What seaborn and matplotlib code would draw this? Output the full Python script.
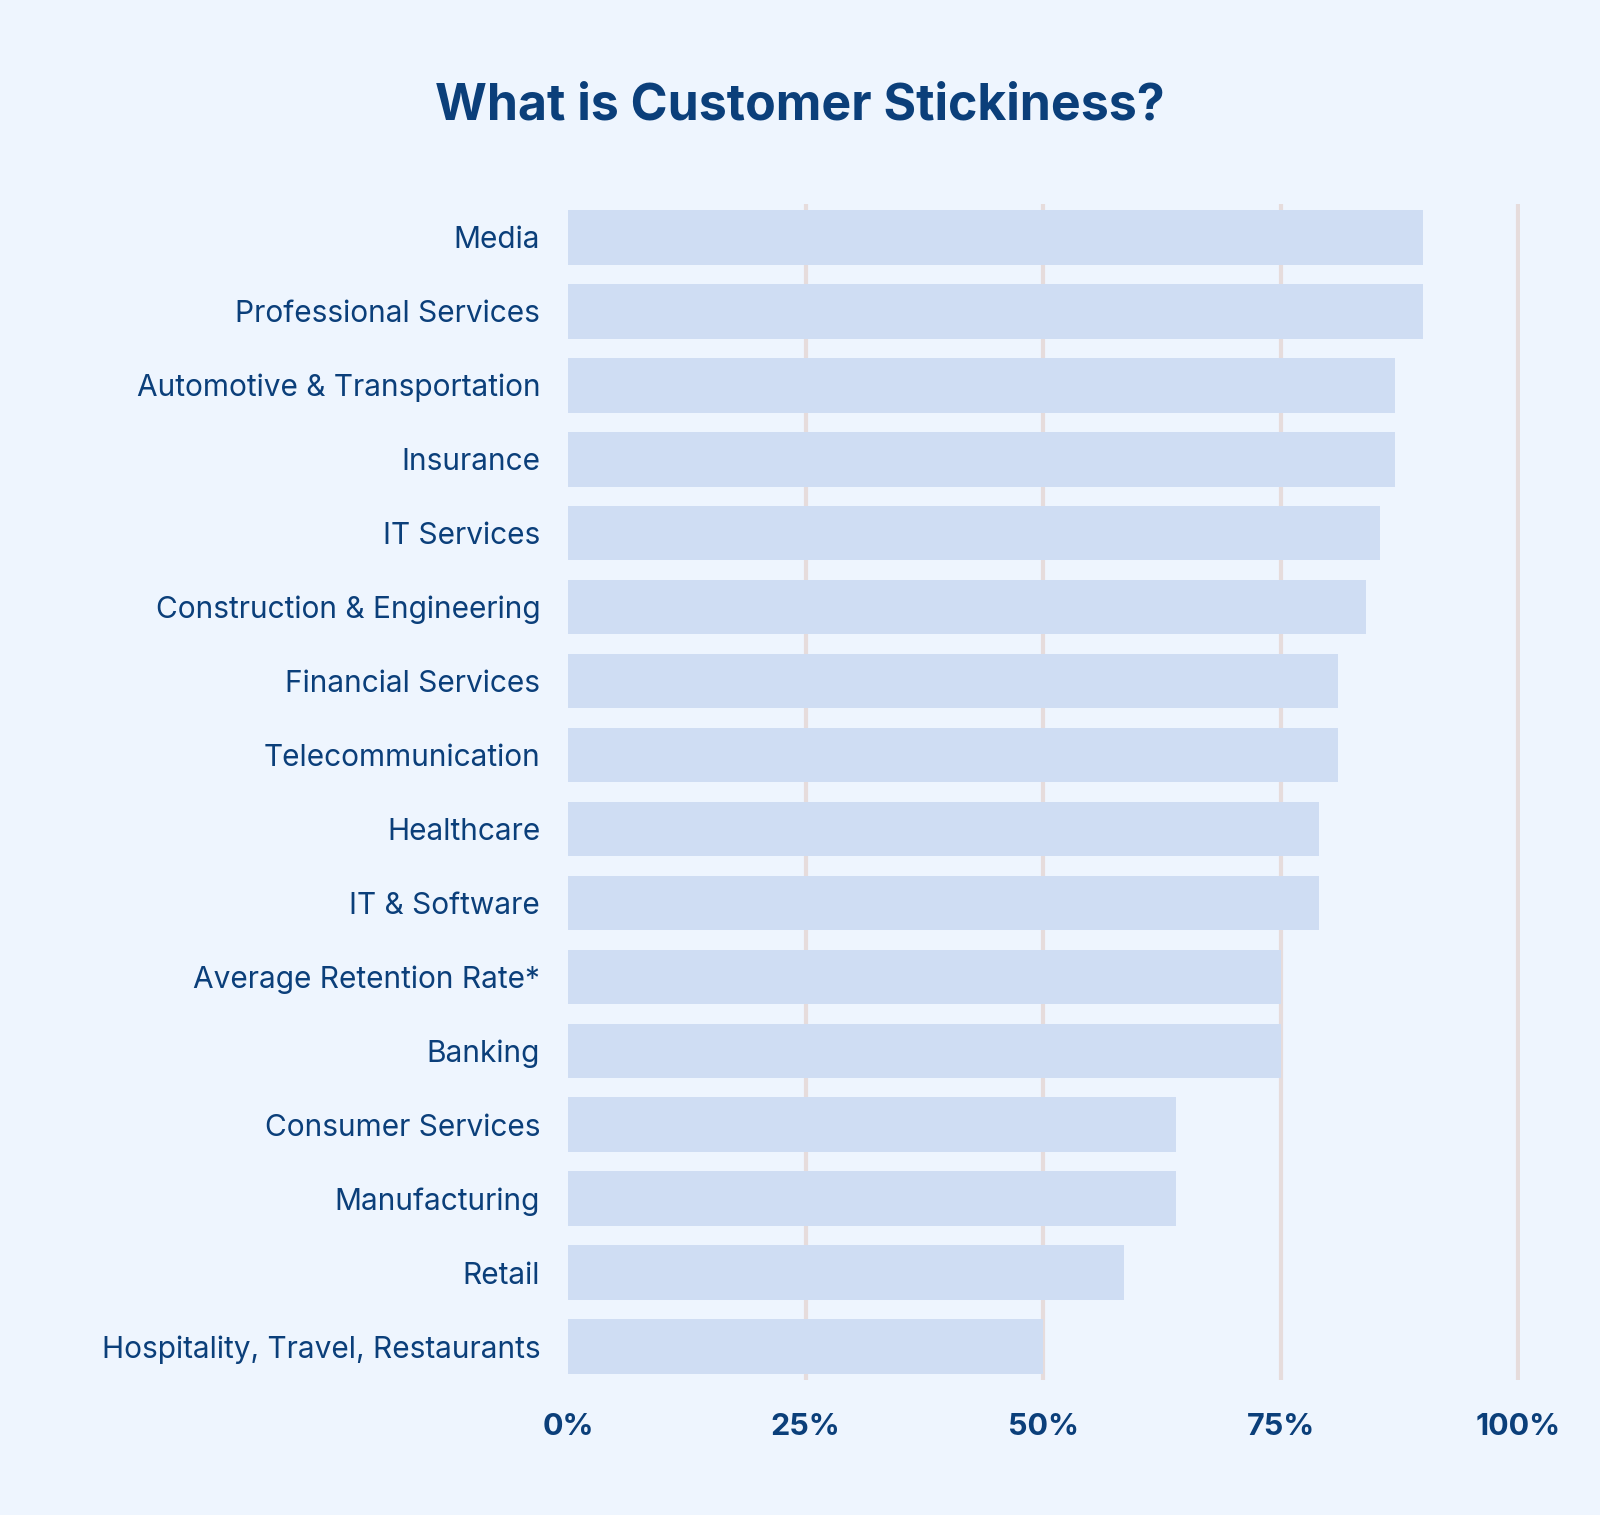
import matplotlib
matplotlib.use("Agg")
import matplotlib.pyplot as plt
import seaborn as sns
import pandas as pd

categories = ["Media", "Professional Services", "Automotive & Transportation", "Insurance",
              "IT Services", "Construction & Engineering", "Financial Services",
              "Telecommunication", "Healthcare", "IT & Software", "Average Retention Rate*",
              "Banking", "Consumer Services", "Manufacturing", "Retail",
              "Hospitality, Travel, Restaurants"]
values = [90, 90, 87, 87, 85.5, 84, 81, 81, 79, 79, 75, 75, 64, 64, 58.5, 50]
tick_values = [0, 25, 50, 75, 100]
tick_labels = ["0%", "25%", "50%", "75%", "100%"]

bg = "#EEF5FE"
txt = "#0B3F7A"
font = "Inter"
df = pd.DataFrame({"industry": categories, "rate": values})

fig = plt.figure(figsize=(16, 15.15), dpi=100, facecolor=bg)
ax = fig.add_axes([568/1600, 1-1380/1515, (1520-568)/1600, (1380-204)/1515])
ax.set_facecolor(bg)
sns.barplot(data=df, x="rate", y="industry", color="#CFDDF3", saturation=1, width=0.74, ax=ax, zorder=2)
ax.set_xlim(0, 100.2)
ax.set_ylim(15.45, -0.45)
for v in tick_values[1:]:
    ax.axvline(v, color="#E6DCDC", lw=3, zorder=1)
ax.set_xticks(tick_values)
ax.set_xticklabels(tick_labels, fontsize=22, fontweight="bold", color=txt, family=font)
for lab in ax.get_yticklabels():
    lab.set_fontsize(21.5); lab.set_color(txt); lab.set_family(font)
ax.tick_params(length=0, axis="y", pad=20)
ax.tick_params(length=0, axis="x", pad=24)
ax.set_xlabel(""); ax.set_ylabel("")
for s in ax.spines.values():
    s.set_visible(False)
fig.text(0.5, 1-106/1515, "What is Customer Stickiness?", ha="center", va="center",
         fontsize=36, fontweight="bold", color=txt, family=font)
fig.savefig("out.png", facecolor=bg)
